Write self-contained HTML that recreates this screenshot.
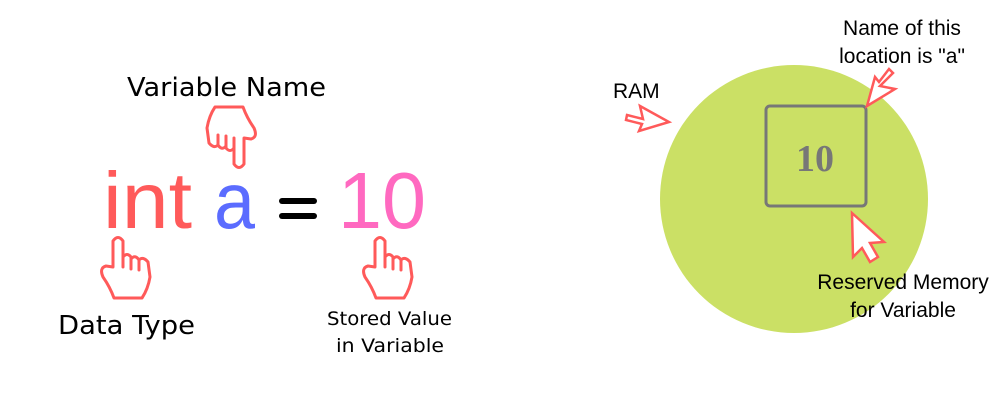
<!DOCTYPE html>
<html><head><style>
html,body{margin:0;padding:0;background:#fff;}
svg{display:block}
</style></head><body>
<svg width="1000" height="400" xmlns="http://www.w3.org/2000/svg">
<defs>
<g id="hand" fill="#fff" stroke="#ff5a5a" stroke-width="3" stroke-linejoin="round" stroke-linecap="round">
<path d="M12,32 L12,6 Q17,-1 22,6 L22,22 Q26,17 30,22 L30,24 Q34,19 38,25 Q42,21 47,27 L49,42 Q47,54 41,63 L13,63 Q9,52 2,42 Q-2,33 5,31 Z"/>
<path d="M22,22 L22,32 M30,24 L30,34 M38,26 L38,35" fill="none"/>
</g>
</defs>
<g font-family="'DejaVu Sans','Liberation Sans',sans-serif">
<text x="127" y="96" font-size="26" fill="#000" textLength="199" lengthAdjust="spacingAndGlyphs">Variable Name</text>
<text x="58" y="334" font-size="26" fill="#000" textLength="137" lengthAdjust="spacingAndGlyphs">Data Type</text>
<text x="327" y="325" font-size="19" fill="#000" textLength="125" lengthAdjust="spacingAndGlyphs">Stored Value</text>
<text x="336" y="352" font-size="19" fill="#000" textLength="108" lengthAdjust="spacingAndGlyphs">in Variable</text>
</g>
<g font-family="'Liberation Sans',sans-serif" font-size="80">
<text x="103" y="228" fill="#ff5a5a" textLength="89" lengthAdjust="spacingAndGlyphs">int</text>
<text x="214" y="228" fill="#5b6cff" textLength="41" lengthAdjust="spacingAndGlyphs">a</text>
<text x="338" y="228" fill="#ff69c0" textLength="88" lengthAdjust="spacingAndGlyphs">10</text>
</g>
<rect x="279" y="198" width="38" height="6" rx="3" fill="#000"/>
<rect x="279" y="213" width="38" height="6" rx="3" fill="#000"/>
<use href="#hand" transform="translate(101,235)"/>
<use href="#hand" transform="translate(363,235)"/>
<use href="#hand" transform="translate(256,170) rotate(180)"/>
<circle cx="794" cy="199" r="134" fill="#cbe065"/>
<rect x="766" y="106" width="100" height="100" rx="4" fill="none" stroke="#777" stroke-width="3"/>
<text x="815" y="171" font-family="'Liberation Serif',serif" font-size="38" font-weight="bold" fill="#777" text-anchor="middle">10</text>
<g font-family="'Liberation Sans',sans-serif" font-size="21" fill="#000">
<text x="613" y="98">RAM</text>
<text x="902" y="35" text-anchor="middle">Name of this</text>
<text x="902" y="63" text-anchor="middle">location is "a"</text>
<text x="903" y="289" text-anchor="middle">Reserved Memory</text>
<text x="903" y="317" text-anchor="middle">for Variable</text>
</g>
<g fill="#fff" stroke="#ff5a5a" stroke-width="2.5" stroke-linejoin="miter">
<path d="M627,115 L643,119 L640,106 L669,122 L639,131 L642,124 L626,120 Z"/>
<path d="M893,73 L880,86 L895,89 L867,106 L875,77 L879,82 L889,69 Z"/>
<path d="M852,213 L884,242 L870,243 L878,257 L870,262 L862,248 L853,257 Z"/>
</g>
</svg>
</body></html>
